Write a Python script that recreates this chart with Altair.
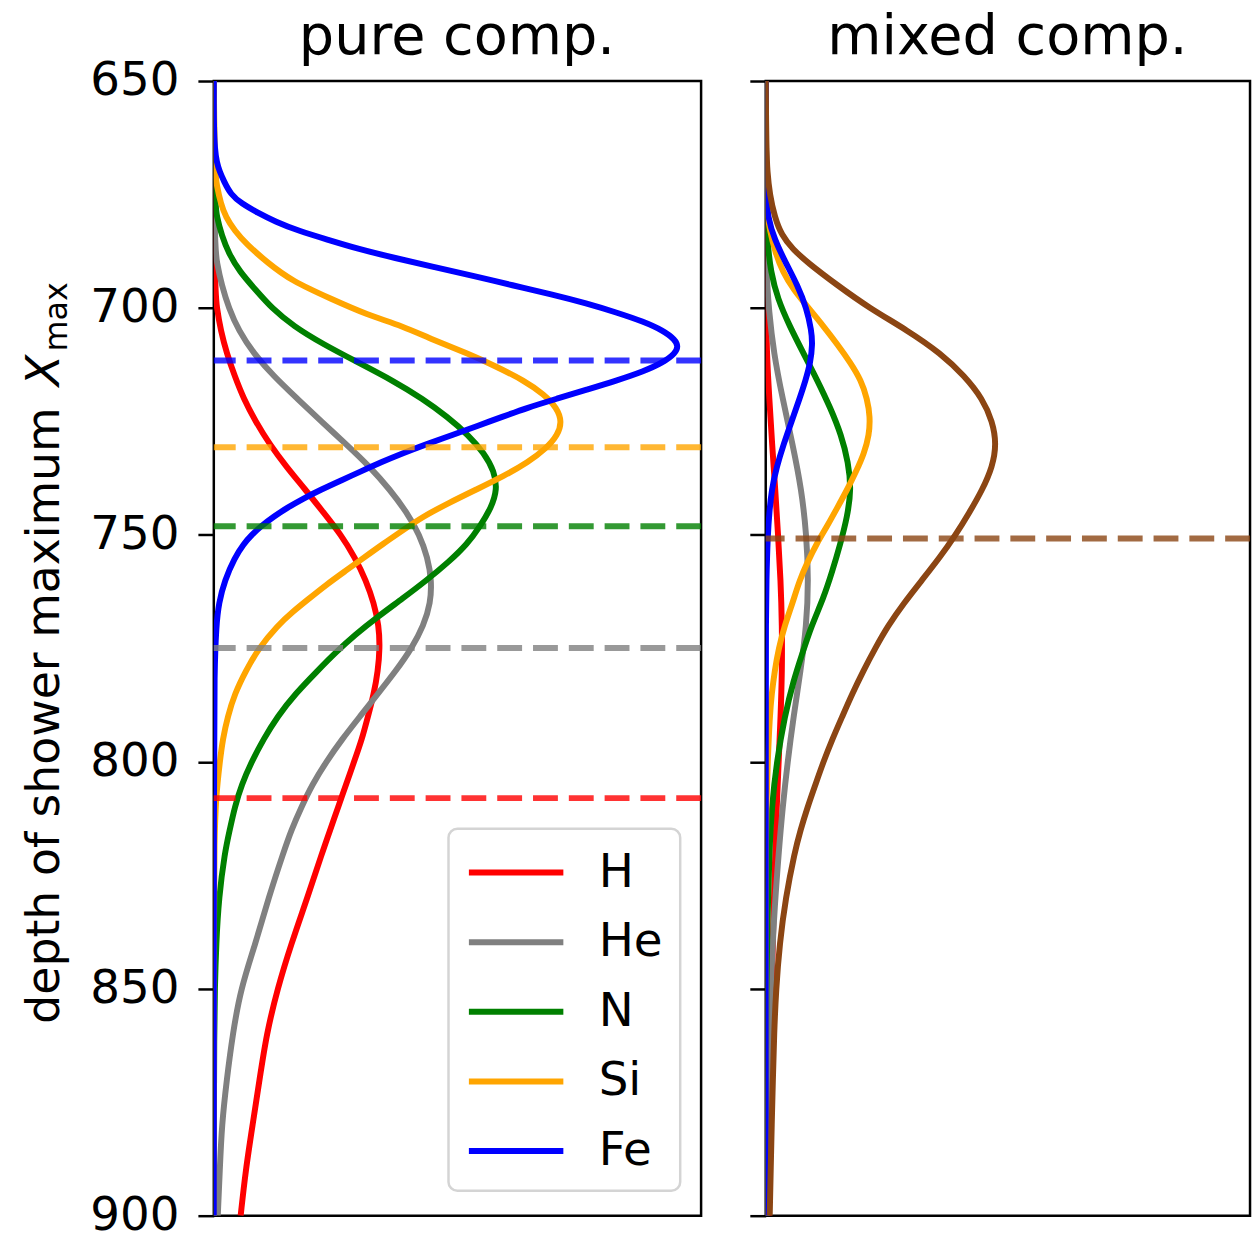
import altair as alt
import pandas as pd

FONT = "DejaVu Sans"

# ---- pure composition: Xmax density (per mille per g/cm^2) at depth nodes ----
h_depth = [650, 695, 700, 705, 710, 715, 720, 725, 730, 735, 740, 745, 750, 755, 760, 765,
           770, 775, 780, 785, 790, 795, 800, 805, 810, 815, 820, 830, 840, 850, 860, 870,
           880, 890, 900]
h_pure = [0, 0.03, 0.15, 0.35, 0.65, 1.05, 1.5, 2.1, 2.8, 3.65, 4.6, 5.5, 6.4, 7.1, 7.65, 8.05,
          8.3, 8.35, 8.25, 8.05, 7.75, 7.45, 7.05, 6.65, 6.25, 5.85, 5.45, 4.7, 3.9, 3.2, 2.65,
          2.3, 1.95, 1.6, 1.35]

he_depth = [650, 686, 690, 695, 700, 705, 710, 715, 720, 725, 730, 735, 740, 745, 750, 755,
            760, 765, 770, 775, 780, 785, 790, 795, 800, 805, 810, 815, 820, 830, 840, 850,
            860, 870, 880, 890, 900]
he_pure = [0, 0.03, 0.15, 0.4, 0.75, 1.25, 2.0, 3.0, 4.2, 5.4, 6.65, 7.85, 8.85, 9.7, 10.35,
           10.75, 10.95, 10.9, 10.55, 9.95, 9.15, 8.25, 7.35, 6.45, 5.65, 4.95, 4.4, 3.9, 3.5,
           2.75, 2.1, 1.35, 0.95, 0.65, 0.4, 0.3, 0.2]

n_depth = [650, 676, 680, 684, 688, 692, 696, 700, 704, 708, 712, 716, 720, 724, 728, 732,
           736, 740, 744, 748, 752, 756, 760, 764, 768, 772, 776, 780, 785, 790, 795, 800,
           805, 810, 815, 820, 830, 840, 850, 860, 880, 900]
n_pure = [0, 0.03, 0.15, 0.4, 0.75, 1.3, 2.1, 2.9, 4.0, 5.5, 7.25, 9.0, 10.5, 11.75, 12.8,
          13.6, 14.1, 14.25, 13.95, 13.4, 12.75, 11.8, 10.7, 9.5, 8.25, 7.1, 6.1, 5.2, 4.1,
          3.2, 2.5, 1.9, 1.4, 1.05, 0.8, 0.55, 0.25, 0.12, 0.05, 0.02, 0, 0]

si_depth = [650, 670, 673, 677, 680, 683, 686, 690, 694, 698, 701.5, 704, 707, 710, 713, 716,
            719, 722, 725, 728, 731, 734, 737, 740, 743, 746, 749, 752, 755, 758, 761, 764,
            767, 770, 775, 780, 785, 790, 795, 800, 808, 818, 830, 900]
si_pure = [0, 0.05, 0.15, 0.35, 0.6, 1.05, 1.65, 2.7, 3.9, 5.9, 7.7, 9.5, 11.0, 12.75, 14.25,
           15.6, 16.6, 17.25, 17.5, 17.3, 16.7, 15.8, 14.6, 13.2, 11.8, 10.5, 9.5, 8.5, 7.55,
           6.6, 5.65, 4.8, 3.95, 3.2, 2.25, 1.6, 1.05, 0.7, 0.45, 0.3, 0.1, 0.03, 0, 0]

fe_depth = [650, 660, 665, 668, 670, 672, 675, 677, 679, 681, 683, 685, 687, 689, 691, 693,
            695, 697, 699, 701, 703, 705, 707, 708.5, 710, 712, 714, 716, 718, 720, 722, 724,
            726, 728, 730, 732, 734, 736, 738, 740, 742, 744, 746, 748, 750, 752, 755, 760,
            765, 770, 780, 800, 900]
fe_pure = [0, 0, 0.05, 0.15, 0.3, 0.5, 0.85, 1.4, 2.2, 3.1, 4.25, 5.75, 7.25, 9.1, 11.1, 13.1,
           15.0, 17.0, 18.75, 20.25, 21.6, 22.6, 23.2, 23.35, 23.2, 22.6, 21.6, 20.25, 18.75,
           17.25, 15.75, 14.5, 13.25, 12.0, 10.7, 9.5, 8.4, 7.4, 6.4, 5.4, 4.5, 3.7, 3.0, 2.4,
           1.9, 1.5, 1.05, 0.55, 0.25, 0.12, 0.03, 0, 0]

# mean Xmax of each pure composition (dashed lines)
pure_names = ["H", "He", "N", "Si", "Fe"]
pure_colors = ["#ff0000", "#808080", "#008000", "#ffa500", "#0000ff"]
pure_means = [808.0, 774.9, 748.1, 730.7, 711.6]

# ---- mixed composition: weighted components and their sum ----
h_mix_depth = [650, 700, 710, 720, 730, 740, 750, 760, 770, 780, 790, 800, 810, 820, 835, 850, 870, 900]
h_mix = [0, 0.02, 0.05, 0.18, 0.32, 0.48, 0.62, 0.75, 0.82, 0.82, 0.75, 0.65, 0.55, 0.48, 0.38, 0.3, 0.22, 0.15]

he_mix_depth = [650, 690, 695, 700, 710, 720, 730, 740, 750, 760, 770, 780, 790, 800, 810, 820, 835, 850, 870, 900]
he_mix = [0, 0.02, 0.08, 0.15, 0.4, 0.85, 1.35, 1.8, 2.05, 2.15, 2.05, 1.75, 1.4, 1.1, 0.85, 0.65, 0.4, 0.25, 0.12, 0.05]

n_mix_depth = [650, 680, 686, 692, 698, 704, 710, 716, 722, 728, 734, 740, 746, 752, 758, 764,
               770, 776, 782, 790, 800, 810, 820, 835, 850, 870, 900]
n_mix = [0, 0.03, 0.1, 0.25, 0.6, 1.2, 1.9, 2.6, 3.25, 3.8, 4.15, 4.3, 4.1, 3.75, 3.35, 2.9,
         2.3, 1.85, 1.4, 0.95, 0.55, 0.3, 0.18, 0.08, 0.03, 0, 0]

si_mix_depth = [650, 672, 678, 683, 688, 692, 696, 700, 704, 708, 712, 716, 720, 724, 728, 732,
                736, 740, 744, 748, 752, 756, 760, 765, 770, 775, 780, 785, 790, 800, 810, 820, 900]
si_mix = [0, 0.02, 0.05, 0.2, 0.5, 0.85, 1.4, 2.15, 2.9, 3.6, 4.25, 4.8, 5.1, 5.25, 5.2, 4.95,
          4.55, 4.1, 3.6, 3.1, 2.55, 2.1, 1.7, 1.35, 0.95, 0.65, 0.45, 0.3, 0.2, 0.1, 0.03, 0, 0]

fe_mix_depth = [650, 675, 680, 685, 690, 695, 700, 705, 708, 712, 716, 720, 725, 730, 735, 740,
                745, 750, 760, 770, 780, 900]
fe_mix = [0, 0.02, 0.1, 0.45, 1.0, 1.6, 2.05, 2.3, 2.35, 2.25, 2.0, 1.7, 1.3, 0.9, 0.55, 0.3,
          0.18, 0.1, 0.03, 0.01, 0, 0]

total_depth = [650, 665, 670, 675, 680, 684, 687, 690, 695, 700, 705, 710, 715, 720, 725, 730,
               735, 740, 745, 750, 755, 760, 765, 770, 775, 780, 785, 790, 795, 800, 805, 810,
               815, 820, 830, 840, 850, 860, 870, 880, 890, 900]
total_mix = [0, 0.03, 0.08, 0.2, 0.45, 0.8, 1.35, 2.1, 3.6, 5.2, 7.15, 8.8, 10.0, 10.9, 11.4,
             11.6, 11.4, 10.9, 10.25, 9.55, 8.75, 7.85, 6.95, 6.15, 5.5, 4.9, 4.35, 3.85, 3.35,
             2.9, 2.5, 2.1, 1.75, 1.45, 1.0, 0.7, 0.52, 0.42, 0.36, 0.3, 0.25, 0.2]

mixed_mean = 750.8
mixed_color = "#8b4513"
ticks = [650, 700, 750, 800, 850, 900]


def long_table(series):
    rows = []
    for name, depths, dens in series:
        for d, v in zip(depths, dens):
            rows.append({"element": name, "depth": d, "density": v})
    return pd.DataFrame(rows)


pure_df = long_table([
    ("H", h_depth, h_pure), ("He", he_depth, he_pure), ("N", n_depth, n_pure),
    ("Si", si_depth, si_pure), ("Fe", fe_depth, fe_pure),
])
mixed_df = long_table([
    ("H", h_mix_depth, h_mix), ("He", he_mix_depth, he_mix), ("N", n_mix_depth, n_mix),
    ("Si", si_mix_depth, si_mix), ("Fe", fe_mix_depth, fe_mix),
    ("mixed", total_depth, total_mix),
])
pure_mean_df = pd.DataFrame({"element": pure_names, "mean": pure_means})
mixed_mean_df = pd.DataFrame({"element": ["mixed"], "mean": [mixed_mean]})

LW = 6
DASH = [25, 11]
PANEL_H = 1141

y_scale = alt.Scale(domain=[650, 900], reverse=True, nice=False, zero=False)


def y_axis(show_labels):
    return alt.Axis(values=ticks, title=None, domain=False, grid=False, tickSize=16,
                    tickWidth=2.5, tickColor="black", labels=show_labels, labelFontSize=47,
                    labelFont=FONT, labelColor="black", labelPadding=19, format="d")


# legend: 95 px line samples (custom path spans twice the symbol width)
pure_color = alt.Color(
    "element:N",
    scale=alt.Scale(domain=pure_names, range=pure_colors),
    legend=alt.Legend(
        title=None, orient="none", legendX=236, legendY=752,
        symbolType="M-2,0H2", symbolSize=2256, symbolStrokeWidth=LW, symbolOffset=24,
        labelFontSize=47, labelFont=FONT, labelColor="black", labelOffset=56,
        rowPadding=20, padding=17, strokeColor="#d4d4d4", fillColor="white",
        cornerRadius=9, labelLimit=0,
    ),
)

pure_lines = alt.Chart(pure_df).mark_line(
    strokeWidth=LW, interpolate="basis", clip=True
).encode(
    x=alt.X("density:Q", scale=alt.Scale(domain=[0, 24.5], nice=False, zero=True), axis=None),
    y=alt.Y("depth:Q", scale=y_scale, axis=y_axis(True)),
    color=pure_color,
    order=alt.Order("depth:Q"),
)

pure_rules = alt.Chart(pure_mean_df).mark_rule(
    strokeWidth=LW, strokeDash=DASH, opacity=0.8, strokeCap="butt"
).encode(
    y=alt.Y("mean:Q", scale=y_scale),
    color=alt.Color("element:N", scale=alt.Scale(domain=pure_names, range=pure_colors), legend=None),
)


def panel_title(text, center):
    return alt.Chart(pd.DataFrame({"t": [text]})).mark_text(
        align="center", baseline="alphabetic", fontSize=56, font=FONT, color="black"
    ).encode(text="t:N", x=alt.value(center), y=alt.value(-27))


# y-axis title: "depth of shower maximum X_max" with italic X and subscript
label_main = alt.Chart(pd.DataFrame({"t": ["depth of shower maximum"]})).mark_text(
    angle=270, align="left", baseline="alphabetic", fontSize=46, font=FONT, color="black"
).encode(text="t:N", x=alt.value(-156), y=alt.value(948))
label_x = alt.Chart(pd.DataFrame({"t": ["X"]})).mark_text(
    angle=270, align="left", baseline="alphabetic", fontSize=46, font=FONT,
    fontStyle="italic", color="black"
).encode(text="t:N", x=alt.value(-156), y=alt.value(307))
label_sub = alt.Chart(pd.DataFrame({"t": ["max"]})).mark_text(
    angle=270, align="left", baseline="alphabetic", fontSize=32, font=FONT, color="black"
).encode(text="t:N", x=alt.value(-148), y=alt.value(272))

left = alt.layer(
    pure_lines, pure_rules, panel_title("pure comp.", 244.5), label_main, label_x, label_sub
).properties(width=490, height=PANEL_H)

mix_names = pure_names + ["mixed"]
mix_colors = pure_colors + [mixed_color]

mixed_lines = alt.Chart(mixed_df).mark_line(
    strokeWidth=LW, interpolate="basis", clip=True
).encode(
    x=alt.X("density:Q", scale=alt.Scale(domain=[0, 24.35], nice=False, zero=True), axis=None),
    y=alt.Y("depth:Q", scale=y_scale, axis=y_axis(False)),
    color=alt.Color("element:N", scale=alt.Scale(domain=mix_names, range=mix_colors), legend=None),
    order=alt.Order("depth:Q"),
)
mixed_rule = alt.Chart(mixed_mean_df).mark_rule(
    strokeWidth=LW, strokeDash=DASH, opacity=0.8, strokeCap="butt"
).encode(
    y=alt.Y("mean:Q", scale=y_scale),
    color=alt.Color("element:N", scale=alt.Scale(domain=mix_names, range=mix_colors), legend=None),
)

right = alt.layer(mixed_lines, mixed_rule, panel_title("mixed comp.", 243)).properties(
    width=487, height=PANEL_H
)

chart = alt.hconcat(left, right, spacing=41).resolve_scale(
    color="independent", x="independent"
).properties(
    padding={"left": 20, "top": 4, "right": 0, "bottom": 0},
    background="white",
).configure_view(
    stroke="black", strokeWidth=2.5
).configure_legend(
    strokeWidth=2.5
)

chart.save("out.html", embed_options={"renderer": "svg", "actions": False})
